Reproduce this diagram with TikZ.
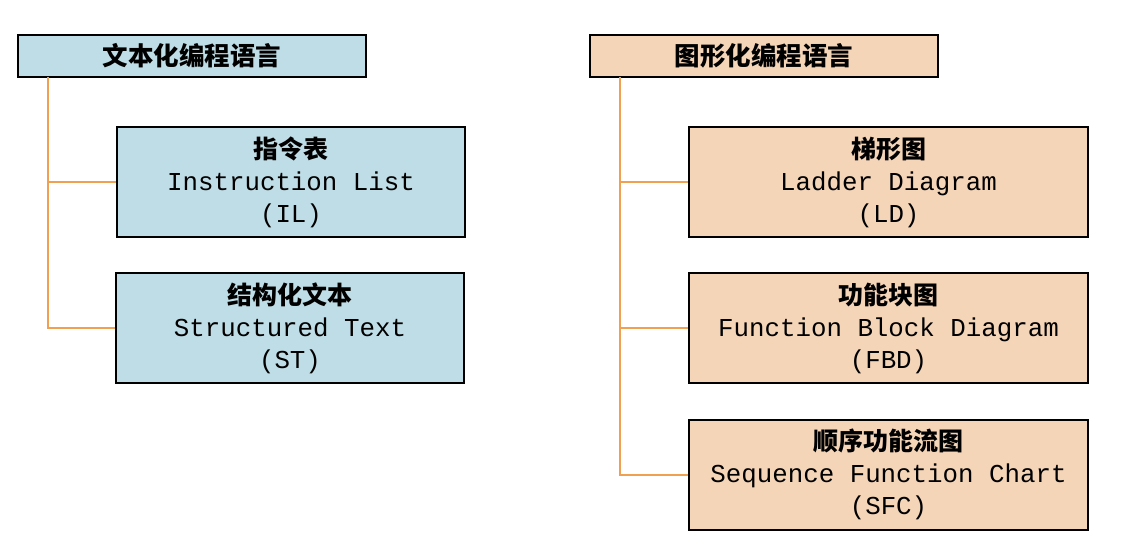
\documentclass[tikz,border=0pt]{standalone}
\usepackage{fontspec}
\setmonofont{Liberation Mono}
\newfontfamily\cjk{Noto Sans CJK SC}
\definecolor{bluefill}{HTML}{BFDDE6}
\definecolor{orangefill}{HTML}{F5D5B8}
\definecolor{conn}{HTML}{F0A050}
\tikzset{
  hdr/.style={draw=black, line width=2pt, minimum height=42pt, inner sep=0pt,
    font=\cjk\bfseries\fontsize{25.5}{28}\selectfont},
  child/.style={draw=black, line width=2pt, minimum height=110pt, inner sep=0pt,
    align=center, font=\ttfamily\fontsize{25.8}{32}\selectfont},
  link/.style={draw=conn, line width=2pt},
}
\newcommand{\ttlc}[1]{{\cjk\bfseries\fontsize{25}{32}\selectfont #1}}
\begin{document}
\begin{tikzpicture}[x=1pt,y=-1pt]
\useasboundingbox (0,0) rectangle (1122,556);
% left
\node[hdr, fill=bluefill, minimum width=348pt] (L) at (192,56) {文本化编程语言};
\node[child, fill=bluefill, minimum width=348pt] (IL) at (291,182) {\ttlc{指令表}\\Instruction List\\(IL)};
\node[child, fill=bluefill, minimum width=348pt] (ST) at (290,328) {\ttlc{结构化文本}\\Structured Text\\(ST)};
\coordinate (La) at (48,77);
\coordinate (Lb) at (48,182);
\coordinate (Lc) at (48,328);
\draw[link] (La) -- (Lc) -- (ST.west);
\draw[link] (Lb) -- (IL.west);
% right
\node[hdr, fill=orangefill, minimum width=348pt] (R) at (764,56) {图形化编程语言};
\node[child, fill=orangefill, minimum width=399pt] (LD) at (888.5,182) {\ttlc{梯形图}\\Ladder Diagram\\(LD)};
\node[child, fill=orangefill, minimum width=399pt] (FBD) at (888.5,328) {\ttlc{功能块图}\\Function Block Diagram\\(FBD)};
\node[child, fill=orangefill, minimum width=399pt] (SFC) at (888.5,474.5) {\ttlc{顺序功能流图}\\Sequence Function Chart\\(SFC)};
\coordinate (Ra) at (620,77);
\coordinate (Rb) at (620,182);
\coordinate (Rc) at (620,328);
\coordinate (Rd) at (620,474.5);
\draw[link] (Ra) -- (Rd) -- (SFC.west);
\draw[link] (Rb) -- (LD.west);
\draw[link] (Rc) -- (FBD.west);
\end{tikzpicture}
\end{document}
